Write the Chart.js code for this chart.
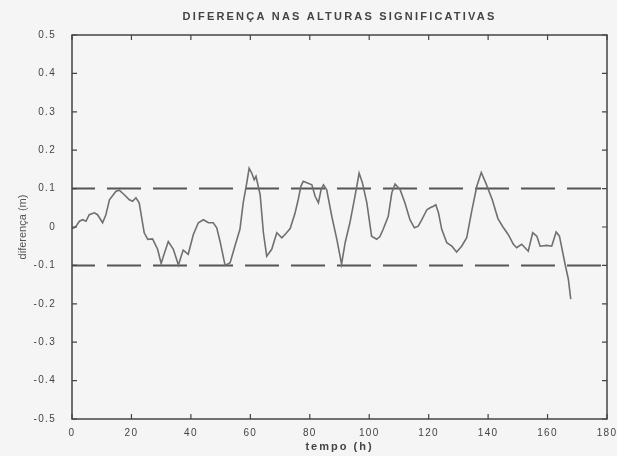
<!DOCTYPE html>
<html>
<head>
<meta charset="utf-8">
<script src="https://cdn.jsdelivr.net/npm/chart.js@4.4.1/dist/chart.umd.min.js"></script>
<style>
  html, body { margin: 0; padding: 0; background: #f5f5f5; }
  canvas { display: block; }
</style>
</head>
<body>
<canvas id="c" width="617" height="456"></canvas>
<script>
// ---- data ----
const chartTitle = "DIFERENÇA NAS ALTURAS SIGNIFICATIVAS";
const xTitle = "tempo (h)";
const yTitle = "diferença (m)";

const times = [0, 1.2, 2.5, 3.6, 4.7, 5.8, 7.5, 8.6, 10.3, 11.4, 12.6, 14.8, 15.9, 17.6, 19.3, 20.4, 21.5, 22.6,
  24.3, 25.5, 27.1, 28.8, 30.0, 31.0, 32.4, 34.1, 35.8, 37.4, 39.1, 40.8, 42.5, 44.2, 45.9, 47.5, 48.7, 49.8,
  51.5, 53.2, 54.8, 56.5, 57.6, 58.8, 59.6, 60.5, 61.3, 61.9, 63.3, 64.4, 65.5, 67.2, 68.9, 70.6, 72.2, 73.4,
  75.0, 76.1, 77.0, 77.8, 79.0, 80.7, 81.8, 82.9, 83.8, 84.6, 85.7, 87.4, 89.1, 90.7, 91.9, 93.5, 95.2, 96.6,
  97.7, 99.2, 100.8, 102.5, 103.6, 104.7, 106.4, 107.6, 108.7, 110.4, 112.0, 113.7, 115.2, 116.5, 117.7, 119.4,
  120.5, 121.6, 122.4, 123.3, 124.4, 126.1, 127.8, 129.4, 131.1, 132.8, 134.5, 136.2, 137.7, 139.2, 141.4,
  143.3, 145.0, 146.8, 148.5, 149.6, 151.3, 153.5, 155.0, 156.4, 157.5, 159.7, 161.4, 162.9, 164.0, 165.9,
  167.0, 167.8];
const diffs = [-0.005, 0.0, 0.015, 0.019, 0.015, 0.032, 0.037, 0.032, 0.011, 0.032, 0.071, 0.093, 0.096, 0.084, 0.071, 0.067, 0.076, 0.063,
  -0.015, -0.032, -0.031, -0.058, -0.095, -0.070, -0.038, -0.058, -0.099, -0.060, -0.071, -0.020, 0.011, 0.019, 0.011, 0.011, -0.002, -0.037,
  -0.100, -0.093, -0.050, -0.006, 0.063, 0.115, 0.153, 0.140, 0.123, 0.132, 0.084, -0.015, -0.076, -0.058, -0.015, -0.028, -0.015, -0.004,
  0.035, 0.071, 0.106, 0.119, 0.115, 0.110, 0.080, 0.063, 0.097, 0.110, 0.097, 0.028, -0.032, -0.097, -0.041, 0.011, 0.080, 0.140,
  0.115, 0.063, -0.024, -0.032, -0.025, -0.006, 0.028, 0.089, 0.112, 0.097, 0.063, 0.019, -0.002, 0.002, 0.019, 0.045,
  0.050, 0.054, 0.058, 0.037, -0.006, -0.041, -0.050, -0.065, -0.050, -0.028, 0.042, 0.106, 0.142, 0.115, 0.071,
  0.022, 0.000, -0.020, -0.045, -0.054, -0.045, -0.063, -0.015, -0.024, -0.050, -0.048, -0.050, -0.013, -0.024, -0.097,
  -0.136, -0.188];

const limitTimes = [0, 180];
const upperLimit = [0.1, 0.1];
const lowerLimit = [-0.1, -0.1];

const xTicks = [0, 20, 40, 60, 80, 100, 120, 140, 160, 180];
const yTicks = [-0.5, -0.4, -0.3, -0.2, -0.1, 0, 0.1, 0.2, 0.3, 0.4, 0.5];

// ---- style ----
const BG = '#f5f5f5';
const INK = '#444444';
const FONT = '"Liberation Sans", Arial, sans-serif';

const toXY = (xs, ys) => xs.map((x, i) => ({ x: x, y: ys[i] }));

const framePlugin = {
  id: 'frame',
  beforeDraw(chart) {
    const ctx = chart.ctx;
    ctx.save();
    ctx.fillStyle = BG;
    ctx.fillRect(0, 0, chart.width, chart.height);
    ctx.restore();
    ctx.letterSpacing = '1.3px';
  },
  afterDraw(chart) {
    const ctx = chart.ctx;
    const a = chart.chartArea;
    const xs = chart.scales.x, ys = chart.scales.y;
    ctx.save();
    ctx.letterSpacing = '0px';
    ctx.strokeStyle = INK;
    ctx.lineWidth = 1.5;
    ctx.strokeRect(a.left, a.top, a.right - a.left, a.bottom - a.top);
    ctx.lineWidth = 1.2;
    ctx.beginPath();
    const tl = 5;
    xTicks.forEach(v => {
      const p = xs.getPixelForValue(v);
      ctx.moveTo(p, a.bottom); ctx.lineTo(p, a.bottom - tl);
      ctx.moveTo(p, a.top); ctx.lineTo(p, a.top + tl);
    });
    yTicks.forEach(v => {
      const p = ys.getPixelForValue(v);
      ctx.moveTo(a.left, p); ctx.lineTo(a.left + tl, p);
      ctx.moveTo(a.right, p); ctx.lineTo(a.right - tl, p);
    });
    ctx.stroke();

    const cx = (a.left + a.right) / 2;
    ctx.fillStyle = INK;
    ctx.textAlign = 'center';
    ctx.textBaseline = 'middle';
    ctx.font = 'bold 11px ' + FONT;
    ctx.letterSpacing = '2.2px';
    ctx.fillText(chartTitle, cx, 17);
    ctx.font = 'bold 11px ' + FONT;
    ctx.letterSpacing = '2px';
    ctx.fillText(xTitle, cx, 447);

    ctx.letterSpacing = '0px';
    ctx.fillStyle = '#555555';
    ctx.font = '11px ' + FONT;
    ctx.translate(23, (a.top + a.bottom) / 2);
    ctx.rotate(-Math.PI / 2);
    ctx.fillText(yTitle, 0, 0);
    ctx.restore();
  }
};

new Chart(document.getElementById('c'), {
  type: 'line',
  data: {
    datasets: [
      {
        data: toXY(times, diffs),
        borderColor: '#707070',
        borderWidth: 1.6,
        pointRadius: 0,
        tension: 0,
        fill: false
      },
      {
        data: toXY(limitTimes, upperLimit),
        borderColor: '#555555',
        borderWidth: 2,
        borderDash: [34, 12],
        borderDashOffset: 11,
        pointRadius: 0,
        fill: false
      },
      {
        data: toXY(limitTimes, lowerLimit),
        borderColor: '#555555',
        borderWidth: 2,
        borderDash: [34, 12],
        borderDashOffset: 11,
        pointRadius: 0,
        fill: false
      }
    ]
  },
  options: {
    responsive: false,
    animation: false,
    devicePixelRatio: 1,
    layout: { padding: { top: 35, right: 10, left: 0, bottom: 0 } },
    plugins: {
      legend: { display: false },
      title: { display: false },
      tooltip: { enabled: false }
    },
    scales: {
      x: {
        type: 'linear',
        min: 0, max: 180,
        afterFit(s) { s.height = 37; },
        afterBuildTicks(s) { s.ticks = xTicks.map(v => ({ value: v })); },
        grid: { display: false },
        border: { display: false },
        ticks: {
          color: INK,
          font: { family: FONT, size: 10 },
          padding: 0,
          maxRotation: 0,
          callback: v => String(v)
        }
      },
      y: {
        type: 'linear',
        min: -0.5, max: 0.5,
        afterFit(s) { s.width = 72; },
        afterBuildTicks(s) { s.ticks = yTicks.map(v => ({ value: v })); },
        grid: { display: false },
        border: { display: false },
        ticks: {
          color: INK,
          font: { family: FONT, size: 10 },
          padding: 8,
          callback: v => (Math.abs(v) < 1e-9 ? '0' : v.toFixed(1))
        }
      }
    }
  },
  plugins: [framePlugin]
});
</script>
</body>
</html>
